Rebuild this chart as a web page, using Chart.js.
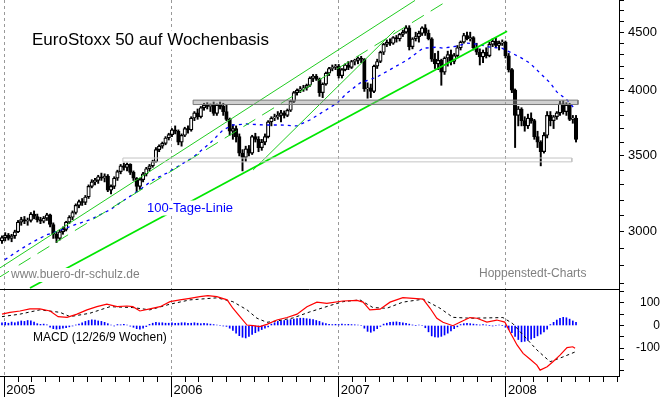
<!DOCTYPE html>
<html>
<head>
<meta charset="utf-8">
<script src="https://cdn.jsdelivr.net/npm/chart.js@4.4.1/dist/chart.umd.min.js"></script>
<style>
html, body { margin: 0; padding: 0; background: #fff; }
#wrap { position: relative; width: 660px; height: 397px; }
</style>
</head>
<body>
<div id="wrap"><canvas id="chart" width="660" height="397"></canvas></div>
<script>
// EuroStoxx 50, weekly candles (week 0 = week starting 27 Dec 2004)
const opens = [2945,2965,2980,2960,2975,3000,3060,3075,3065,3070,3110,3095,3075,3065,3085,3105,3045,2985,2960,3000,3015,3060,3090,3120,3165,3190,3185,3220,3290,3320,3330,3355,3345,3360,3265,3290,3345,3390,3430,3420,3440,3385,3345,3290,3335,3375,3410,3430,3460,3545,3570,3590,3630,
  3655,3690,3680,3600,3650,3700,3690,3780,3820,3790,3860,3880,3870,3880,3815,3880,3870,3830,3770,3680,3700,3640,3520,3490,3550,3520,3640,3620,3560,3600,3640,3750,3780,3790,3800,3820,3800,3840,3910,3980,4000,4010,4020,4040,4100,4115,4090,3980,4050,4140,4180,4190,
  4200,4120,4170,4210,4190,4240,4250,4270,4260,4010,4020,3990,4200,4240,4320,4390,4410,4400,4450,4440,4480,4500,4540,4370,4440,4460,4490,4540,4490,4440,4260,4220,4250,4150,4270,4300,4240,4290,4360,4410,4470,4440,4450,4360,4320,4280,4320,4290,4390,4420,4380,4400,
  4410,4290,4170,4000,3800,3850,3760,3720,3780,3760,3640,3600,3530,3650,3800,3760,3790,3820,3890,3830,3880,3770,3780];
const highs = [2975,2995,2990,2985,3010,3070,3090,3095,3085,3120,3130,3110,3090,3095,3115,3110,3055,3000,3010,3030,3065,3100,3130,3175,3200,3210,3230,3300,3335,3345,3365,3380,3375,3370,3300,3355,3400,3440,3450,3450,3445,3395,3350,3345,3385,3420,3440,3470,3560,3580,3600,3640,3665,
  3700,3720,3690,3660,3710,3720,3790,3830,3850,3870,3895,3900,3890,3905,3890,3905,3895,3880,3780,3730,3720,3660,3545,3570,3575,3650,3665,3640,3620,3660,3760,3790,3810,3830,3840,3835,3850,3920,3990,4010,4030,4040,4050,4110,4130,4130,4100,4060,4150,4190,4210,4215,
  4215,4180,4220,4240,4250,4260,4280,4285,4265,4060,4050,4210,4260,4330,4400,4430,4440,4460,4470,4490,4520,4560,4560,4450,4500,4510,4550,4570,4520,4450,4310,4330,4260,4280,4330,4340,4310,4380,4420,4490,4500,4500,4460,4400,4350,4340,4360,4410,4440,4450,4420,4430,
  4420,4310,4180,4010,3870,3860,3790,3810,3820,3770,3680,3610,3670,3830,3830,3800,3830,3910,3915,3900,3895,3800,3800];
const lows = [2930,2945,2950,2940,2960,2995,3040,3050,3040,3060,3080,3060,3050,3055,3070,3030,2960,2935,2950,2985,3005,3050,3075,3110,3150,3165,3170,3210,3280,3300,3310,3330,3320,3255,3240,3275,3330,3375,3400,3395,3370,3330,3255,3270,3320,3360,3395,3420,3455,3530,3555,3580,3615,
  3640,3660,3580,3570,3640,3665,3680,3760,3770,3780,3840,3850,3830,3800,3800,3850,3800,3760,3650,3620,3600,3500,3395,3460,3500,3510,3600,3530,3540,3580,3630,3720,3760,3770,3750,3780,3790,3830,3900,3960,3980,3990,4000,4030,4070,4080,3950,3940,4040,4120,4160,4170,
  4100,4100,4160,4170,4180,4210,4220,4230,3990,3935,3940,3980,4180,4230,4300,4370,4380,4390,4410,4420,4460,4490,4340,4350,4420,4410,4470,4470,4430,4240,4180,4170,4040,4130,4200,4210,4220,4280,4340,4400,4430,4420,4340,4300,4210,4230,4270,4280,4370,4360,4340,4380,
  4270,4150,3980,3560,3720,3720,3680,3700,3740,3620,3560,3430,3520,3630,3720,3700,3770,3800,3810,3800,3760,3740,3600];
const closes = [2965,2980,2960,2975,3000,3060,3075,3065,3070,3110,3095,3075,3065,3085,3105,3045,2985,2960,3000,3015,3060,3090,3120,3165,3190,3185,3220,3290,3320,3330,3355,3345,3360,3265,3290,3345,3390,3430,3420,3440,3385,3345,3290,3335,3375,3410,3430,3460,3545,3570,3590,3630,3655,
  3690,3680,3600,3650,3700,3690,3780,3820,3790,3860,3880,3870,3880,3815,3880,3870,3830,3770,3680,3700,3640,3520,3490,3550,3520,3640,3620,3560,3600,3640,3750,3780,3790,3800,3820,3800,3840,3910,3980,4000,4010,4020,4040,4100,4115,4090,3980,4050,4140,4180,4190,4200,
  4120,4170,4210,4190,4240,4250,4270,4260,4010,4020,3990,4200,4240,4320,4390,4410,4400,4450,4440,4480,4500,4540,4370,4440,4460,4490,4540,4490,4440,4260,4220,4250,4150,4270,4300,4240,4290,4360,4410,4470,4440,4450,4360,4320,4280,4320,4290,4390,4420,4380,4400,4410,
  4290,4170,4000,3800,3850,3760,3720,3780,3760,3640,3600,3530,3650,3800,3760,3790,3820,3890,3830,3880,3770,3780,3620];

// 100-Tage-Linie (read at sample weeks)
const maWeek  = [0.9,5.6,9.7,14,18.7,22.8,27.4,33.7,36.8,43,47,51.4,55.5,59.6,64.9,68.9,72,76.4,81.4,86.7,92,96,100,104.5,107.6,111.6,116.9,121.9,126.3,131.3,135.6,137.5,141.9,145,148.1,152.2,155.9,158.4,161.5,164.6,167.8,170.9,173,176.2,178.1];
const maLevel = [2835,2893,2940,2982,3013,3044,3074,3137,3182,3267,3333,3380,3435,3491,3592,3689,3727,3735,3727,3727,3720,3765,3826,3897,3977,4058,4108,4184,4252,4356,4365,4356,4374,4401,4392,4365,4356,4321,4278,4226,4141,4060,3986,3921,3866];

// trend lines [week, level]
const trendMain   = [[8.73, 2676], [157.5, 4509]];
const trendUpper  = [[-0.62, 2788], [128.8, 4800]];
const trendDashed = [[-0.62, 2738], [139.1, 4800]];
const trendSteep  = [[78.3, 3401], [122.5, 4518]];

// support / resistance zones
const upperZoneWeeks = [59.6, 179.6], upperZoneLevels = [3885, 3920];
const lowerZoneWeeks = [37.7, 177.7], lowerZoneLevels = [3458, 3485];

// MACD (12/26/9)
const macdWeek = [0,2.5,5.6,8.7,11.8,15,17.5,20.3,23.4,26.5,29.6,32.7,35.9,39,40.8,43,46.1,49.3,52.4,55.5,58.6,61.7,64.2,67,70.2,72,74.2,76.4,78.3,80.4,82.6,85.7,88.9,92,95.1,98.2,101.3,106.3,110.7,112.6,114.7,117.9,121,125,128.2,131.3,133.5,135.6,137.5,140.6,142.8,145.9,148.1,151.2,154.3,156.8,158.4,160.6,162.5,164.6,166.8,167.8,170,171.8,174,176.2,178,178.7];
const macdLine = [50,58,64,73,73,64,39,36,50,69,83,94,83,86,83,64,73,83,105,113,120,127,132,127,113,76,39,2,-1,-5,5,24,35,50,83,103,98,108,111,103,69,72,103,123,120,116,76,32,14,-1,14,35,32,15,24,15,-29,-86,-123,-148,-175,-197,-182,-160,-131,-98,-94,-101];
const signalWeek = [0,5.6,11.8,18.1,21.2,27.4,33.7,40.8,46.1,52.4,58.6,67,72,76.4,79.5,82.6,85.7,90.7,96,102.3,106.3,111.6,115.7,120,125,131.3,136.6,140.6,145.9,150,156.2,159.3,162.5,166.8,170.9,174.9,178.7];
const signalLine = [39,50,69,58,39,54,83,79,69,94,113,122,105,69,32,14,20,33,60,88,105,113,79,76,103,116,76,36,32,33,35,8,-42,-108,-160,-139,-117];
const histogram = [12,14,10,15,12,16,20,18,22,20,15,8,5,6,3,-8,-14,-16,-15,-12,-10,-6,-2,2,6,
  12,18,22,25,24,20,18,14,8,2,-2,4,3,5,2,-3,-8,-14,-16,-12,-5,5,10,14,12,12,10,10,12,10,
  10,12,12,10,10,12,10,8,10,8,6,4,2,0,-2,-4,-12,-22,-34,-45,-52,-55,-48,-40,-32,-25,-18,-12,-6,
  6,12,18,20,22,24,26,28,30,32,32,30,28,26,22,18,12,8,5,4,5,4,6,4,5,4,3,2,0,
  -12,-26,-30,-24,-14,-4,6,10,14,15,16,14,12,10,6,2,0,2,0,
  -10,-28,-46,-50,-52,-48,-42,-34,-24,-14,-6,4,8,10,8,6,4,2,4,2,0,-2,0,2,0,
  -8,-18,-32,-48,-62,-72,-70,-66,-60,-54,-46,-38,-28,-16,4,14,24,32,36,34,28,20,14];

const yearLabels = ['2005', '2006', '2007', '2008'];
const priceLabels = [3000, 3500, 4000, 4500];
const macdLabels = [100, 0, -100];

// axis set-up
const X_MIN = -0.62, X_MAX = 192.4;
const P_MIN = 2671, P_MAX = 4804;
const M_MIN = -223, M_MAX = 161;
const firstWeek = Date.UTC(2004, 11, 27);
const weekOf = t => (t - firstWeek) / 604800000;
const yearStarts = yearLabels.map(y => weekOf(Date.UTC(+y, 0, 1)));
const monthStarts = [];
for (let y = 2005; y <= 2008; y++) {
  for (let m = 0; m < 12; m++) {
    const w = weekOf(Date.UTC(y, m, 1));
    if (w < X_MAX) monthStarts.push(w);
  }
}
const priceTicks = [];
for (let v = 2700; v <= 4800; v += 100) priceTicks.push(v);
const macdTicks = [-200, -150, -100, -50, 0, 50, 100, 150, M_MAX];

const pts = (xs, ys) => xs.map((x, k) => ({x: x, y: ys[k]}));
const seg = a => a.map(p => ({x: p[0], y: p[1]}));
const box = (ws, ls) => [
  {x: ws[0], y: ls[1]}, {x: ws[1], y: ls[1]}, {x: ws[1], y: ls[0]}, {x: ws[0], y: ls[0]}, {x: ws[0], y: ls[1]}
];
const isYear = v => yearStarts.some(y => Math.abs(y - v) < 1e-6);

Chart.defaults.font.family = '"Liberation Sans", Arial, sans-serif';
Chart.defaults.color = '#000';

const lineDefaults = {type: 'line', xAxisID: 'x', pointRadius: 0, tension: 0, fill: false};

const notes = {
  id: 'notes',
  afterDatasetsDraw(chart) {
    const c = chart.ctx;
    c.save();
    c.textBaseline = 'middle';
    const put = (text, x, y, size, color, bg) => {
      c.font = size + 'px "Liberation Sans", Arial, sans-serif';
      if (bg) {
        const w = c.measureText(text).width;
        c.fillStyle = '#fff';
        c.fillRect(x - 2, y - size / 2 - 1, w + 4, size + 2);
      }
      c.fillStyle = color;
      c.fillText(text, x, y);
    };
    put('EuroStoxx 50 auf Wochenbasis', 32, 40, 17, '#000', true);
    put('100-Tage-Linie', 147, 208, 13, '#0000ff', true);
    put('www.buero-dr-schulz.de', 11, 275, 12, '#808080', true);
    put('Hoppenstedt-Charts', 479, 274, 12, '#808080', true);
    put('MACD (12/26/9 Wochen)', 33, 338, 12, '#000', true);
    c.restore();
  }
};

new Chart(document.getElementById('chart'), {
  type: 'bar',
  data: {
    datasets: [
      // zones
      Object.assign({}, lineDefaults, {yAxisID: 'y', order: 1, data: box(upperZoneWeeks, upperZoneLevels),
        borderColor: '#7a7a7a', borderWidth: 1, backgroundColor: 'rgba(150,150,150,0.45)', fill: 'shape'}),
      Object.assign({}, lineDefaults, {yAxisID: 'y', order: 1, data: box(lowerZoneWeeks, lowerZoneLevels),
        borderColor: '#c4c4c4', borderWidth: 1}),
      // trend lines
      Object.assign({}, lineDefaults, {yAxisID: 'y', order: 2, data: seg(trendMain), borderColor: '#00e600', borderWidth: 1.8}),
      Object.assign({}, lineDefaults, {yAxisID: 'y', order: 2, data: seg(trendUpper), borderColor: '#22cc22', borderWidth: 1}),
      Object.assign({}, lineDefaults, {yAxisID: 'y', order: 2, data: seg(trendDashed), borderColor: '#22cc22', borderWidth: 1, borderDash: [14, 8]}),
      Object.assign({}, lineDefaults, {yAxisID: 'y', order: 2, data: seg(trendSteep), borderColor: '#22cc22', borderWidth: 1}),
      // 100-day line
      Object.assign({}, lineDefaults, {yAxisID: 'y', order: 3, data: pts(maWeek, maLevel), borderColor: '#0000ff', borderWidth: 1.3, borderDash: [3, 4]}),
      // candle bodies
      {type: 'bar', xAxisID: 'x', yAxisID: 'y', order: 4, grouped: false, barThickness: 3.5,
        data: closes.map((c, i) => ({x: i, y: [opens[i], c]})),
        backgroundColor: ctx => closes[ctx.dataIndex] >= opens[ctx.dataIndex] ? '#fff' : '#000',
        borderColor: '#000', borderWidth: 1.2, borderSkipped: false},
      // wicks
      {type: 'bar', xAxisID: 'x', yAxisID: 'y', order: 5, grouped: false, barThickness: 1.3,
        data: highs.map((h, i) => ({x: i, y: [lows[i], h]})), backgroundColor: '#000', borderWidth: 0},
      // MACD panel
      {type: 'bar', xAxisID: 'x', yAxisID: 'ym', order: 8, grouped: false, barThickness: 1,
        data: histogram.map((v, i) => ({x: i, y: v})), backgroundColor: '#0000ff', borderWidth: 0},
      Object.assign({}, lineDefaults, {yAxisID: 'ym', order: 6, data: pts(macdWeek, macdLine), borderColor: '#ff0000', borderWidth: 1.2}),
      Object.assign({}, lineDefaults, {yAxisID: 'ym', order: 7, data: pts(signalWeek, signalLine), borderColor: '#000', borderWidth: 1, borderDash: [3, 3]})
    ]
  },
  options: {
    responsive: false,
    animation: false,
    events: [],
    layout: {padding: 0},
    plugins: {legend: {display: false}, tooltip: {enabled: false}},
    scales: {
      x: {
        type: 'linear', axis: 'x', position: 'bottom', min: X_MIN, max: X_MAX, offset: false,
        afterBuildTicks: s => { s.ticks = monthStarts.map(v => ({value: v})); },
        afterFit: s => { s.height = 0; s.paddingLeft = 0; s.paddingRight = 0; },
        ticks: {display: false, autoSkip: false},
        grid: {offset: false, drawOnChartArea: true, drawTicks: true, tickLength: 6, tickColor: '#000', tickWidth: 1,
          color: ctx => (ctx.tick && isYear(ctx.tick.value)) ? '#999999' : 'rgba(0,0,0,0)', lineWidth: 1},
        border: {display: true, color: '#000', width: 1, dash: [3, 3]}
      },
      xy: {
        type: 'linear', axis: 'x', position: 'bottom', min: X_MIN, max: X_MAX, offset: false,
        afterBuildTicks: s => { s.ticks = yearStarts.map(v => ({value: v})); },
        afterFit: s => { s.height = 21; s.paddingLeft = 0; s.paddingRight = 0; },
        ticks: {autoSkip: false, maxRotation: 0, align: 'start', labelOffset: 2, padding: -14.5,
          font: {size: 13}, color: '#000',
          callback: (v, i) => yearLabels[i]},
        grid: {offset: false, drawOnChartArea: false, drawTicks: true, tickLength: 21, tickColor: '#000', tickWidth: 1},
        border: {display: false}
      },
      y: {
        type: 'logarithmic', position: 'right', stack: 'panels', stackWeight: 289, min: P_MIN, max: P_MAX,
        afterBuildTicks: s => { s.ticks = priceTicks.map(v => ({value: v})); },
        afterFit: s => { s.width = 41; s.paddingTop = 0; s.paddingBottom = 0; },
        ticks: {autoSkip: false, padding: 4, font: {size: 13}, color: '#000',
          callback: v => priceLabels.includes(v) ? String(v) : ''},
        grid: {drawOnChartArea: false, drawTicks: true, tickLength: 5, tickColor: '#000'},
        border: {display: true, color: '#000', width: 1}
      },
      ym: {
        type: 'linear', position: 'right', stack: 'panels', stackWeight: 87, min: M_MIN, max: M_MAX, beginAtZero: false,
        afterBuildTicks: s => { s.ticks = macdTicks.map(v => ({value: v})); },
        afterFit: s => { s.width = 41; s.paddingTop = 0; s.paddingBottom = 0; },
        ticks: {autoSkip: false, padding: 8, crossAlign: 'far', font: {size: 12}, color: '#000',
          callback: v => macdLabels.includes(v) ? String(v) : ''},
        grid: {drawOnChartArea: true, drawTicks: true, tickLength: 5, lineWidth: 1,
          color: ctx => (ctx.tick && ctx.tick.value === M_MAX) ? '#000' : 'rgba(0,0,0,0)',
          tickColor: ctx => (ctx.tick && ctx.tick.value === M_MAX) ? 'rgba(0,0,0,0)' : '#000'},
        border: {display: true, color: '#000', width: 1}
      }
    }
  },
  plugins: [notes]
});
</script>
</body>
</html>
